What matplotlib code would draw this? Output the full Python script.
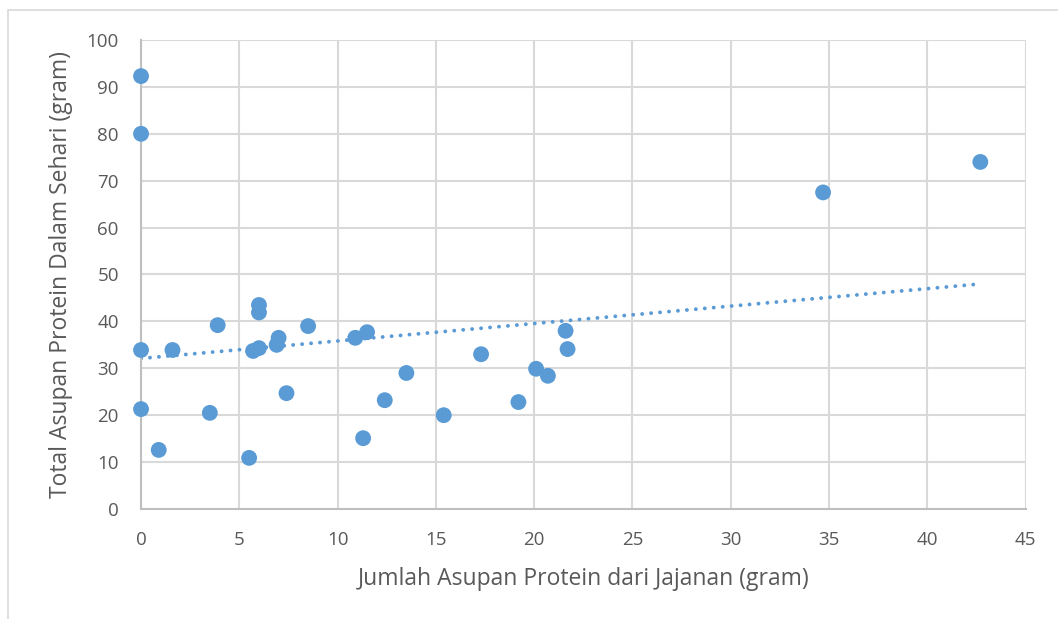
import numpy as np
import matplotlib.pyplot as plt
from matplotlib.patches import Rectangle

plt.rcParams['font.family'] = ['Open Sans', 'DejaVu Sans']

# protein from snacks vs. total daily protein (gram)
protein_jajanan = [
    0.0, 0.0, 0.0, 0.0, 0.9, 1.6, 3.5, 3.9, 5.5, 5.7, 6.0, 6.0, 6.0, 6.9, 7.0,
    7.4, 8.5, 10.9, 11.5, 11.3, 12.4, 13.5, 15.4, 17.3, 19.2, 20.1, 20.7, 21.6,
    21.7, 34.7, 42.7,
]
protein_total = [
    92.3, 80.0, 33.9, 21.3, 12.6, 33.9, 20.5, 39.2, 10.9, 33.7, 34.3, 43.5, 41.9,
    35.0, 36.5, 24.7, 39.0, 36.5, 37.7, 15.1, 23.2, 29.0, 20.0, 33.0, 22.8, 29.9,
    28.4, 38.0, 34.1, 67.5, 74.0,
]
x_ticks = list(range(0, 50, 5))
y_ticks = list(range(0, 110, 10))

blue = '#5B9BD5'
grid_gray = '#D9D9D9'
text_gray = '#595959'

fig = plt.figure(figsize=(10.58, 6.19), dpi=100)
ax = fig.add_axes([0.1333, 0.1777, 0.836, 0.7577])

x = np.array(protein_jajanan)
y = np.array(protein_total)

# linear trend line over the data range
slope, intercept = np.polyfit(x, y, 1)
xt = np.array([0, x.max()])
ax.plot(xt, slope * xt + intercept, color=blue, linestyle=(0, (0.01, 2.3)),
        linewidth=2.8, dash_capstyle='round', zorder=2)

ax.scatter(x, y, s=130, color=blue, edgecolors='none', zorder=3, clip_on=False)

ax.set_xlim(0, 45)
ax.set_ylim(0, 100)
ax.set_xticks(x_ticks)
ax.set_yticks(y_ticks)
ax.grid(True, color=grid_gray, linewidth=1.5)
ax.set_axisbelow(True)
for side in ['top', 'right']:
    ax.spines[side].set_visible(False)
for side in ['left', 'bottom']:
    ax.spines[side].set_color('#BFBFBF')
    ax.spines[side].set_linewidth(1.5)
ax.tick_params(length=0, labelsize=13.5, labelcolor=text_gray)
ax.tick_params(axis='x', pad=16)
ax.tick_params(axis='y', pad=16)

ax.set_xlabel('Jumlah Asupan Protein dari Jajanan (gram)', fontsize=16.5,
              color=text_gray, labelpad=13)
ax.set_ylabel('Total Asupan Protein Dalam Sehari (gram)', fontsize=16.5,
              color=text_gray, labelpad=10)

# chart frame
fig.patches.append(Rectangle((8 / 1058, -0.1), 1.2, (619 - 10) / 619 + 0.1,
                             transform=fig.transFigure, fill=False,
                             edgecolor='#D9D9D9', linewidth=1.2))

fig.savefig('out.png', dpi=100, facecolor='white')
